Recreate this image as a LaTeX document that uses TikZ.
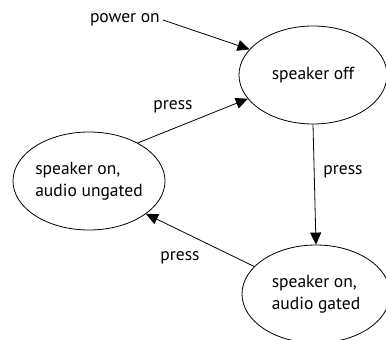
\documentclass[tikz,border=0pt]{standalone}
\usepackage{fontspec}
\setmainfont{PT Sans}
\usetikzlibrary{shapes.geometric,arrows.meta}
\begin{document}
\begin{tikzpicture}[x=1pt,y=-1pt,
  state/.style={draw,line width=0.8pt,ellipse,minimum width=150pt,minimum height=98pt,inner sep=0pt,align=left,font=\fontsize{17.5}{22}\selectfont},
  trans/.style={draw,line width=0.8pt,-{Triangle[length=12pt,width=11pt]}},
  lbl/.style={font=\fontsize{17.5}{22}\selectfont,inner sep=0pt}]
\useasboundingbox (0,0) rectangle (386,340);
\node[state,minimum width=148pt] (off) at (313,75) {speaker off};
\node[state,minimum width=152pt] (ung) at (89,181) {speaker on,\\audio ungated};
\node[state,minimum width=148pt] (gat) at (316,294) {speaker on,\\audio gated};
\node[lbl,anchor=east] (pw) at (160,20) {power on};
\coordinate (pwe) at (163,20);
\draw[trans] (pwe) -- (off.158);
\draw[trans] (ung.38) -- (off.200);
\draw[trans] (off.south) -- (gat.north);
\draw[trans] (gat.156) -- (ung.330);
\node[lbl] (l1) at (173,107) {press};
\node[lbl] (l2) at (343,172) {press};
\node[lbl] (l3) at (180,258) {press};
\end{tikzpicture}
\end{document}
